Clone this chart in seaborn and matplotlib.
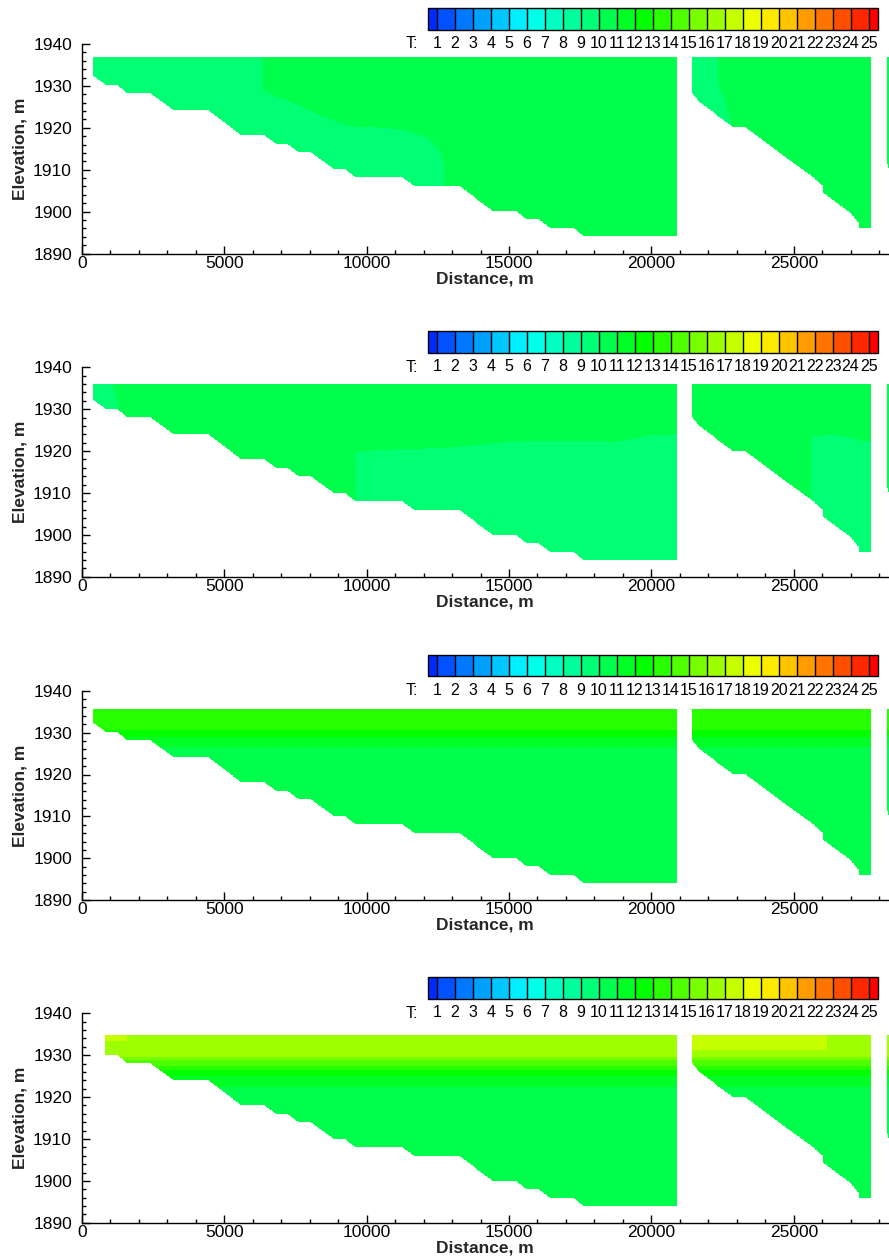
import numpy as np
import matplotlib
matplotlib.use("Agg")
import matplotlib.pyplot as plt
import seaborn as sns
from matplotlib.path import Path
from matplotlib.colors import ListedColormap, BoundaryNorm, hsv_to_rgb
from matplotlib.cm import ScalarMappable
from matplotlib.ticker import MultipleLocator

# ---------------------------------------------------------------- data
t_levels = list(range(1, 26))                      # legend levels, deg C

# bed profile of reach 1 (distance m, elevation m)
bed1_x = [400, 820, 1230, 1615, 2400, 3220, 4430, 5590, 6420, 6800, 7200,
          7610, 8020, 8840, 9230, 9600, 11240, 11650, 13240, 14400, 15230,
          15610, 16030, 16410, 17230, 17600, 20850]
bed1_z = [1932.2, 1930, 1930, 1928, 1928, 1924, 1924, 1918, 1918, 1916, 1916,
          1914, 1914, 1910, 1910, 1908, 1908, 1906, 1906, 1900, 1900,
          1898, 1898, 1896, 1896, 1894, 1894]
# bed profile of reach 2
bed2_x = [21400, 21620, 22820, 23250, 25600, 26000, 26000, 26880, 27240, 27240, 27670]
bed2_z = [1928.2, 1926.2, 1920, 1920, 1908.3, 1905.9, 1904.3, 1900, 1897.3, 1896, 1896]
# bed profile of reach 3 (cut by the frame)
bed3_x = [28240, 28700]
bed3_z = [1911.5, 1900.0]

# water surface and upstream end of the wetted section, per panel
surface = [1936.6, 1936.0, 1935.4, 1934.8]
start_x = [400, 400, 400, 800]

# horizontal temperature layers: lower bound elevation and temperature
p1_layer_z = [1890.0]
p1_layer_t = [10.5]
p2_layer_z = [1890.0]
p2_layer_t = [10.5]
p3_layer_z = [1890.0, 1926.4, 1928.8, 1930.4]
p3_layer_t = [10.5, 11.5, 12.5, 13.5]
p4_layer_z = [1890.0, 1922.5, 1925.0, 1926.4, 1927.5, 1928.7, 1929.6]
p4_layer_t = [10.5, 11.5, 12.5, 13.5, 14.5, 15.5, 16.5]

# water masses that differ from the layering (outline + temperature)
p1_cold1_x = [300, 6320, 6320, 6850, 7200, 8140, 9310, 11180, 12120, 12590, 12700, 12700, 300]
p1_cold1_z = [1938, 1938, 1929, 1927, 1926.5, 1923.4, 1920.3, 1919.5, 1917.5, 1913.9, 1910.7, 1895, 1895]
p1_cold1_t = 9.5
p1_cold2_x = [21300, 22320, 22320, 22500, 22850, 21300]
p1_cold2_z = [1938, 1938, 1930, 1927.4, 1919, 1919]
p1_cold2_t = 9.5

p2_cold1_x = [300, 1000, 1290, 1290, 300]
p2_cold1_z = [1938, 1938, 1930, 1925, 1925]
p2_cold1_t = 9.5
p2_cold2_x = [9600, 9600, 10000, 11180, 12530, 13940, 14870, 16860, 18730, 19560, 20030, 20900, 20900]
p2_cold2_z = [1890, 1919.5, 1920.1, 1920.4, 1920.65, 1921.45, 1922.1, 1922.5, 1922.2, 1923.3, 1923.8, 1924.0, 1890]
p2_cold2_t = 9.5
p2_cold3_x = [25580, 25580, 26230, 26930, 27280, 27700, 27700]
p2_cold3_z = [1890, 1923.4, 1923.8, 1923.4, 1922.5, 1922.2, 1890]
p2_cold3_t = 9.5

p4_warm1_x = [700, 1580, 1580, 700]
p4_warm1_z = [1933.4, 1933.4, 1938, 1938]
p4_warm1_t = 17.5
p4_warm2_x = [21300, 26110, 26110, 21300]
p4_warm2_z = [1931.2, 1931.2, 1938, 1938]
p4_warm2_t = 17.5

layers = [(p1_layer_z, p1_layer_t), (p2_layer_z, p2_layer_t),
          (p3_layer_z, p3_layer_t), (p4_layer_z, p4_layer_t)]
patches = [
    [(p1_cold1_x, p1_cold1_z, p1_cold1_t), (p1_cold2_x, p1_cold2_z, p1_cold2_t)],
    [(p2_cold1_x, p2_cold1_z, p2_cold1_t), (p2_cold2_x, p2_cold2_z, p2_cold2_t),
     (p2_cold3_x, p2_cold3_z, p2_cold3_t)],
    [],
    [(p4_warm1_x, p4_warm1_z, p4_warm1_t), (p4_warm2_x, p4_warm2_z, p4_warm2_t)],
]

# ---------------------------------------------------------------- style
sns.set_theme(style="ticks")
plt.rcParams['font.family'] = ['Liberation Sans', 'DejaVu Sans']

hues = np.linspace(230, 0, 26) / 360.0
rgb = hsv_to_rgb(np.column_stack([hues, np.ones(26), np.ones(26)]))
cmap = ListedColormap(rgb[1:-1])
cmap.set_under(rgb[0])
cmap.set_over(rgb[-1])
cmap.set_bad((1, 1, 1, 0))
norm = BoundaryNorm(t_levels, cmap.N)

W, H = 889, 1259
fig = plt.figure(figsize=(W / 100, H / 100), dpi=100)

XMAX = 28340
gx = np.arange(0, 28400, 20.0) + 10
gz = np.arange(1890, 1940, 0.1) + 0.05
XX, ZZ = np.meshgrid(gx, gz)
pts = np.column_stack([XX.ravel(), ZZ.ravel()])


def inside(xs, zs):
    return Path(np.column_stack([xs, zs])).contains_points(pts).reshape(XX.shape)


def field(i):
    surf, x0 = surface[i], start_x[i]
    bx = np.array(bed1_x, float)
    bz = np.array(bed1_z, float)
    keep = bx > x0
    z0 = np.interp(x0, bx, bz)
    r1x = [x0, x0] + list(bx[keep]) + [bx[-1]]
    r1z = [surf, z0] + list(bz[keep]) + [surf]
    r2x = [bed2_x[0]] + bed2_x + [bed2_x[-1]]
    r2z = [surf] + bed2_z + [surf]
    r3x = [bed3_x[0]] + bed3_x + [bed3_x[-1]]
    r3z = [surf] + bed3_z + [surf]
    wet = inside(r1x, r1z) | inside(r2x, r2z) | inside(r3x, r3z)
    lz, lt = layers[i]
    idx = np.searchsorted(lz, ZZ, side='right') - 1
    T = np.array(lt)[np.clip(idx, 0, len(lt) - 1)]
    for px, pz, pt in patches[i]:
        T = np.where(inside(px, pz), pt, T)
    return np.ma.masked_where(~wet, T)


panel_top = [44.0, 367.3, 690.7, 1013.3]
panel_h = 209.5
ax_left = 81.7

for i in range(4):
    top = panel_top[i]
    ax = fig.add_axes([ax_left / W, 1 - (top + panel_h) / H, 1 - ax_left / W, panel_h / H])
    ax.imshow(field(i), extent=[0, 28400, 1890, 1940], origin='lower', aspect='auto',
              cmap=cmap, norm=norm, interpolation='nearest')
    ax.set_xlim(0, XMAX)
    ax.set_ylim(1890, 1940)
    sns.despine(ax=ax)
    for s in ('left', 'bottom'):
        ax.spines[s].set_color('black')
        ax.spines[s].set_linewidth(1.0)
    ax.xaxis.set_major_locator(MultipleLocator(5000))
    ax.xaxis.set_minor_locator(MultipleLocator(1000))
    ax.yaxis.set_major_locator(MultipleLocator(10))
    ax.yaxis.set_minor_locator(MultipleLocator(2))
    ax.tick_params(which='major', direction='in', length=5.7, width=1.0, color='black',
                   labelsize=12.5, labelcolor='black')
    ax.tick_params(which='minor', direction='in', length=3.0, width=1.0, color='black')
    ax.tick_params(axis='y', which='major', pad=7)
    ax.tick_params(axis='x', which='major', pad=1.5)
    ax.set_xlabel('Distance, m', fontsize=12.5, fontweight='bold', labelpad=0.5)
    ax.set_ylabel('Elevation, m', fontsize=12.5, fontweight='bold', labelpad=4)

    # legend bar
    cb_top = top - 36.0
    cax = fig.add_axes([428 / W, 1 - (cb_top + 21.5) / H, (877.6 - 428) / W, 21.5 / H])
    cb = fig.colorbar(ScalarMappable(norm=norm, cmap=cmap), cax=cax, orientation='horizontal',
                      extend='both', extendrect=True, extendfrac=0.5 / 24, drawedges=True,
                      ticks=t_levels)
    cb.outline.set_edgecolor('black')
    cb.outline.set_linewidth(1.0)
    cb.dividers.set_color('black')
    cb.dividers.set_linewidth(1.0)
    cax.tick_params(length=0, labelsize=11.5, pad=4.8, labelcolor='black')
    fig.text(418 / W, 1 - (cb_top + 21.5 + 14.5) / H, 'T:', ha='right', va='center',
             fontsize=11.5, color='black')

fig.savefig('out.png', dpi=100, facecolor='white')
